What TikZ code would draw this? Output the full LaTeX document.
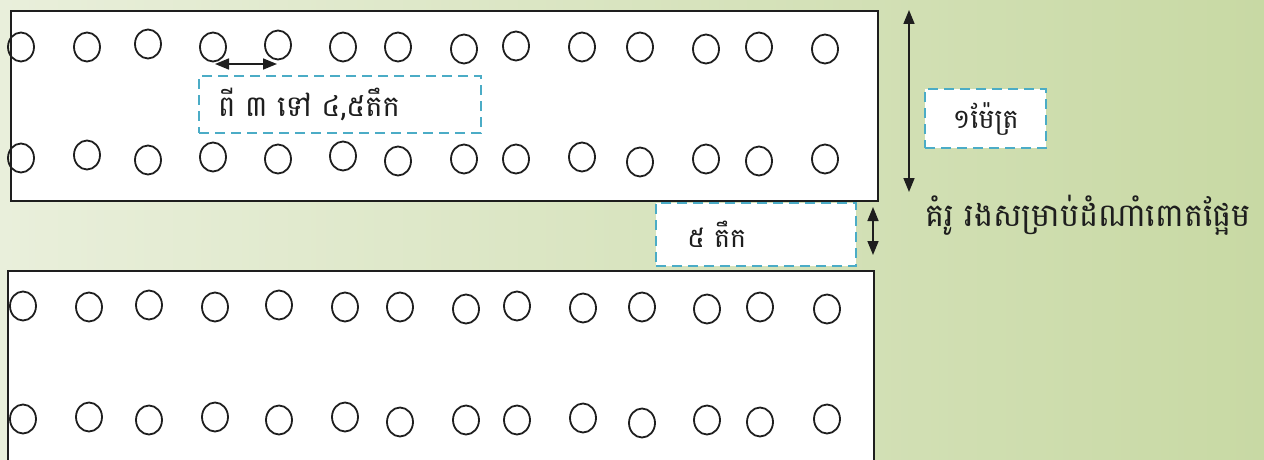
\documentclass[tikz,border=0pt]{standalone}
\usepackage{fontspec}
\newfontfamily\khmer[Script=Khmer]{Battambang}
\usetikzlibrary{arrows.meta,shapes.geometric}
\definecolor{cyanline}{RGB}{75,172,198}
\definecolor{bgL}{RGB}{233,239,219}
\definecolor{bgR}{RGB}{200,217,164}
\definecolor{inkc}{RGB}{30,30,30}
\begin{document}
\begin{tikzpicture}[x=1pt,y=-1pt,
  hole/.style={draw=inkc, line width=1.8pt, ellipse, minimum width=26pt, minimum height=29pt, inner sep=0pt},
  bed/.style={draw=inkc, line width=2pt, fill=white, rectangle, inner sep=0pt, anchor=north west},
  lab/.style={draw=cyanline, dash pattern=on 10pt off 6pt, line width=2.4pt, fill=white, rectangle, inner ysep=0pt},
  ktext/.style={font=\khmer\fontsize{27}{30}\selectfont, text=inkc},
  dimarrow/.style={{Triangle[length=14pt,width=11pt]}-{Triangle[length=14pt,width=11pt]}, line width=1.6pt, draw=inkc}
]
\useasboundingbox (0,0) rectangle (1264,460);
\clip (0,0) rectangle (1264,460);
\shade[left color=bgL, right color=bgR] (0,0) rectangle (1264,460);

% beds
\node[bed, minimum width=867pt, minimum height=190pt] (bed1) at (10,10) {};
\node[bed, minimum width=866pt, minimum height=205pt] (bed2) at (7,270) {};

% holes
\foreach \x/\y [count=\i] in {21/47,87/47,148/44,213/47,278/45,343/47,398/47,464/49,516/46,582/47,640/47,706/49,759/47,825/49}
  \node[hole] (a\i) at (\x,\y) {};
\foreach \x/\y [count=\i] in {21/158,87/155,148/160,213/157,278/159,343/156,398/161,464/159,516/159,582/157,640/162,706/159,759/161,825/159}
  \node[hole] (b\i) at (\x,\y) {};
\foreach \x/\y [count=\i] in {23/306,89/307,149/305,215/307,279/305,345/307,400/307,466/309,517/306,583/308,642/307,707/309,760/307,827/309}
  \node[hole] (c\i) at (\x,\y) {};
\foreach \x/\y [count=\i] in {23/419,89/417,149/420,215/417,279/420,345/417,400/422,466/420,517/420,583/418,642/423,707/420,760/422,827/419}
  \node[hole] (d\i) at (\x,\y) {};

% labels
\node[lab, ktext, font=\khmer\fontsize{29}{32}\selectfont, anchor=north west, minimum height=57pt, text width=244pt, inner xsep=19pt, align=left] (lab1) at (198,75) {\raisebox{-5pt}{ពី ៣ ទៅ ៤,៥តឹក}};
\node[lab, ktext, anchor=north west, minimum height=59pt, minimum width=121pt] (lab2) at (924,88) {\raisebox{-5pt}{១ម៉ែត្រ}};
\node[lab, ktext, anchor=north west, minimum height=63pt, text width=138pt, inner xsep=31pt, align=left] (lab3) at (655,202) {\raisebox{-3pt}{៥ តឹក}};
\node[ktext, font=\khmer\fontsize{32}{35}\selectfont, anchor=west, inner sep=0pt] (cap) at (925,215) {គំរូ រងសម្រាប់ដំណាំពោតផ្អែម};

% dimension arrows
\coordinate (h1) at (215,64);
\coordinate (h2) at (277,64);
\draw[dimarrow] (h1) -- (h2);
\coordinate (v1) at (909,10);
\coordinate (v2) at (909,192);
\draw[dimarrow] (v1) -- (v2);
\coordinate (s1) at (873,207);
\coordinate (s2) at (873,255);
\draw[dimarrow] (s1) -- (s2);
\end{tikzpicture}
\end{document}
